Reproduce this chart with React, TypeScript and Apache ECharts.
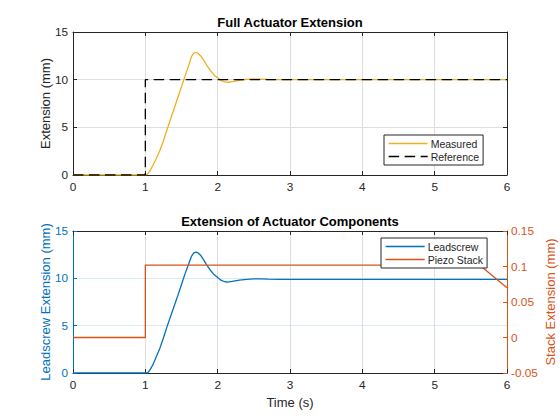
import React, { useEffect, useRef } from "react";
import * as echarts from "echarts";

// ---- data ----
const measuredTime = [0, 1.0, 1.03, 1.06, 1.1, 1.15, 1.2, 1.25, 1.3, 1.35, 1.4, 1.45, 1.5, 1.55, 1.6, 1.64, 1.67, 1.7, 1.73, 1.77, 1.81, 1.85, 1.9, 1.95, 2.0, 2.05, 2.1, 2.14, 2.2, 2.3, 2.4, 2.5, 2.6, 2.7, 2.85, 6.0];
const measuredValues = [0, 0, 0.12, 0.38, 0.95, 1.7, 2.55, 3.6, 4.75, 5.9, 7.0, 8.15, 9.25, 10.4, 11.5, 12.45, 12.78, 12.85, 12.75, 12.45, 12.0, 11.5, 10.95, 10.5, 10.2, 9.9, 9.76, 9.73, 9.8, 9.92, 10.02, 10.07, 10.06, 10.02, 10.0, 10.0];

const referenceTime = [0, 1, 1, 6];
const referenceValues = [0, 0, 10, 10];

const leadscrewTime = [0, 1.0, 1.03, 1.06, 1.1, 1.15, 1.2, 1.25, 1.3, 1.35, 1.4, 1.45, 1.5, 1.55, 1.6, 1.64, 1.67, 1.7, 1.73, 1.77, 1.81, 1.85, 1.9, 1.95, 2.0, 2.05, 2.1, 2.14, 2.2, 2.3, 2.4, 2.5, 2.6, 2.7, 2.85, 6.0];
const leadscrewValues = [0, 0, 0, 0.28, 0.8, 1.7, 2.6, 3.7, 4.9, 6.0, 7.1, 8.2, 9.35, 10.5, 11.55, 12.35, 12.68, 12.77, 12.68, 12.38, 11.9, 11.4, 10.85, 10.4, 10.08, 9.78, 9.64, 9.61, 9.68, 9.8, 9.9, 9.95, 9.95, 9.92, 9.9, 9.9];

const piezoTime = [0, 1, 1, 5.62, 6];
const piezoValues = [0, 0, 0.102, 0.102, 0.07];

const xTicks = { min: 0, max: 6, interval: 1 };
const extTicks = { min: 0, max: 15, interval: 5 };
const stackTicks = { min: -0.05, max: 0.15, interval: 0.05 };

const titles = ["Full Actuator Extension", "Extension of Actuator Components"];
const seriesNames = ["Measured", "Reference", "Leadscrew", "Piezo Stack"];
const axisNames = ["Extension (mm)", "Leadscrew Extension (mm)", "Stack Extension (mm)", "Time (s)"];

const zip = (t: number[], v: number[]) => t.map((x, i) => [x, v[i]]);

const FONT = "'Liberation Sans', Arial, Helvetica, sans-serif";
const DARK = "#262626";
const BLUE = "#0072BD";
const ORANGE = "#D95319";
const YELLOW = "#EDB120";
const GRID_GRAY = "#dedede";
const GRID_BLUE = "#d9eaf5";

export default function App() {
  const ref = useRef<HTMLDivElement>(null);

  useEffect(() => {
    if (!ref.current) return;
    const chart = echarts.init(ref.current, undefined, { renderer: "svg" });

    const tickLabel = (color: string, margin = 5) => ({
      color,
      fontSize: 11.8,
      fontFamily: FONT,
      margin,
    });
    const inTick = (color: string) => ({
      show: true,
      inside: true,
      length: 4,
      lineStyle: { color, width: 1 },
    });
    const axLine = (color: string) => ({ show: true, onZero: false, lineStyle: { color, width: 1 } });

    const xMain = (gridIndex: number, withName: boolean) => ({
      type: "value",
      gridIndex,
      position: "bottom",
      ...xTicks,
      axisLine: axLine(DARK),
      axisTick: inTick(DARK),
      axisLabel: tickLabel(DARK, 6),
      splitLine: { show: true, lineStyle: { color: GRID_GRAY, width: 1 } },
      name: withName ? axisNames[3] : "",
      nameLocation: "middle",
      nameGap: 23,
      nameTextStyle: { color: DARK, fontSize: 13, fontFamily: FONT },
    });
    const xTop = (gridIndex: number) => ({
      type: "value",
      gridIndex,
      position: "top",
      ...xTicks,
      axisLine: axLine(DARK),
      axisTick: inTick(DARK),
      axisLabel: { show: false },
      splitLine: { show: false },
    });

    const legendBase = {
      orient: "vertical",
      padding: [3, 4, 3, 4],
      itemGap: 2,
      itemWidth: 39,
      itemHeight: 12,
      borderColor: DARK,
      borderWidth: 1,
      backgroundColor: "#ffffff",
      itemStyle: { color: "rgba(0,0,0,0)", borderColor: "rgba(0,0,0,0)", borderWidth: 0, opacity: 0 },
      lineStyle: { width: 1.3 },
      textStyle: { color: DARK, fontSize: 10.5, fontFamily: FONT, padding: [0, 0, 0, -2] },
    };

    const option: any = {
      animation: false,
      backgroundColor: "#ffffff",
      grid: [
        { left: 73, top: 32, width: 434, height: 143, containLabel: false, outerBoundsMode: "none" },
        { left: 73, top: 231, width: 434, height: 142, containLabel: false, outerBoundsMode: "none" },
      ],
      xAxis: [xMain(0, false), xTop(0), xMain(1, true), xTop(1)],
      yAxis: [
        {
          type: "value",
          gridIndex: 0,
          position: "left",
          ...extTicks,
          axisLine: axLine(DARK),
          axisTick: inTick(DARK),
          axisLabel: tickLabel(DARK),
          splitLine: { show: true, lineStyle: { color: GRID_GRAY, width: 1 } },
          name: axisNames[0],
          nameLocation: "middle",
          nameGap: 21,
          nameMoveOverlap: false,
          nameTextStyle: { color: DARK, fontSize: 13, fontFamily: FONT },
        },
        {
          type: "value",
          gridIndex: 0,
          position: "right",
          ...extTicks,
          axisLine: axLine(DARK),
          axisTick: inTick(DARK),
          axisLabel: { show: false },
          splitLine: { show: false },
        },
        {
          type: "value",
          gridIndex: 1,
          position: "left",
          ...extTicks,
          axisLine: axLine(BLUE),
          axisTick: inTick(BLUE),
          axisLabel: tickLabel(BLUE),
          splitLine: { show: true, lineStyle: { color: GRID_BLUE, width: 1 } },
          name: axisNames[1],
          nameLocation: "middle",
          nameGap: 21,
          nameMoveOverlap: false,
          nameTextStyle: { color: BLUE, fontSize: 13, fontFamily: FONT },
        },
        {
          type: "value",
          gridIndex: 1,
          position: "right",
          ...stackTicks,
          axisLine: axLine(ORANGE),
          axisTick: inTick(ORANGE),
          axisLabel: tickLabel(ORANGE, 4),
          splitLine: { show: false },
          name: axisNames[2],
          nameLocation: "middle",
          nameGap: 37,
          nameRotate: 90,
          nameMoveOverlap: false,
          nameTextStyle: { color: ORANGE, fontSize: 13, fontFamily: FONT },
        },
      ],
      legend: [
        { ...legendBase, data: [seriesNames[0], seriesNames[1]], left: 384, top: 135 },
        { ...legendBase, data: [seriesNames[2], seriesNames[3]], left: 381, top: 238 },
      ],
      graphic: [
        {
          type: "text",
          x: 290,
          y: 22,
          style: {
            text: titles[0],
            fill: "#000",
            font: `bold 13px ${FONT}`,
            textAlign: "center",
            textVerticalAlign: "middle",
          },
        },
        {
          type: "text",
          x: 290,
          y: 221,
          style: {
            text: titles[1],
            fill: "#000",
            font: `bold 13px ${FONT}`,
            textAlign: "center",
            textVerticalAlign: "middle",
          },
        },
      ],
      series: [
        {
          name: seriesNames[0],
          type: "line",
          xAxisIndex: 0,
          yAxisIndex: 0,
          data: zip(measuredTime, measuredValues),
          symbol: "none",
          lineStyle: { color: YELLOW, width: 1.3 },
          itemStyle: { color: YELLOW },
        },
        {
          name: seriesNames[1],
          type: "line",
          xAxisIndex: 0,
          yAxisIndex: 0,
          data: zip(referenceTime, referenceValues),
          symbol: "none",
          lineStyle: { color: "#000", width: 1.3, type: [10.5, 5.5] },
          itemStyle: { color: "#000" },
        },
        {
          name: seriesNames[2],
          type: "line",
          xAxisIndex: 2,
          yAxisIndex: 2,
          data: zip(leadscrewTime, leadscrewValues),
          symbol: "none",
          lineStyle: { color: BLUE, width: 1.3 },
          itemStyle: { color: BLUE },
        },
        {
          name: seriesNames[3],
          type: "line",
          xAxisIndex: 2,
          yAxisIndex: 3,
          data: zip(piezoTime, piezoValues),
          symbol: "none",
          lineStyle: { color: ORANGE, width: 1.3 },
          itemStyle: { color: ORANGE },
        },
      ],
    };

    chart.setOption(option);
    return () => chart.dispose();
  }, []);

  return (
    <div
      ref={ref}
      style={{ position: "fixed", left: 0, top: 0, width: 560, height: 420, background: "#fff" }}
    />
  );
}
